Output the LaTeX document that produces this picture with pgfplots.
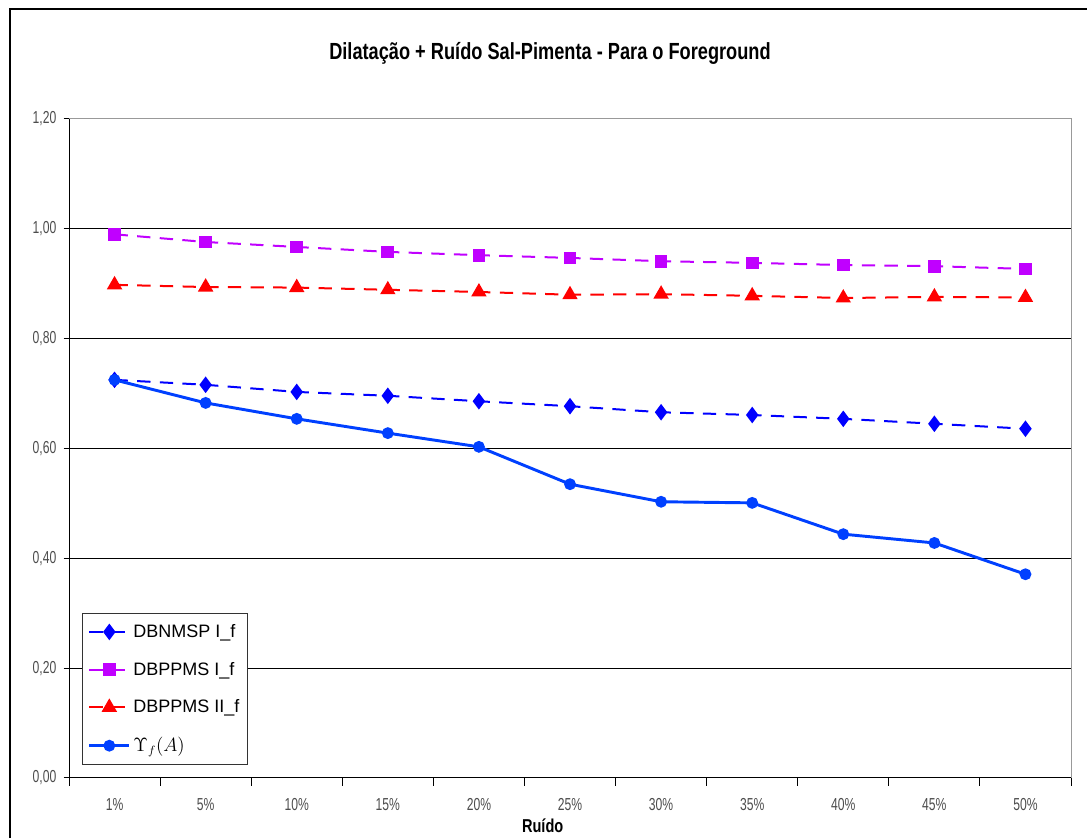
\documentclass[border=0pt]{standalone}
\usepackage{fontspec}
\usepackage{pgfplots}
\pgfplotsset{compat=1.18}
\setmainfont{Liberation Sans}
\newfontfamily\cond[FakeStretch=0.7]{Liberation Sans}
\newfontfamily\condb[FakeStretch=0.78]{Liberation Sans Bold}
\definecolor{dblue}{RGB}{0,0,255}
\definecolor{sblue}{RGB}{0,64,255}
\definecolor{mpurple}{RGB}{192,0,255}
\definecolor{mred}{RGB}{255,0,0}
\begin{document}
\begin{tikzpicture}
\useasboundingbox (0,0) rectangle (815.25pt,628.5pt);
\draw[line width=1.5pt] (7.5pt,0pt) -- (7.5pt,621.75pt) -- (815.25pt,621.75pt);
\node[font=\condb\fontsize{17.5}{20}\selectfont] at (412.5pt,588.75pt) {Dilatação + Ruído Sal-Pimenta - Para o Foreground};
\node[font=\condb\fontsize{14}{16}\selectfont] at (407pt,9pt) {Ruído};
\begin{axis}[
  at={(51.75pt,45pt)}, anchor=south west,
  scale only axis, width=751.5pt, height=494.25pt,
  xmin=-0.5, xmax=10.5, ymin=0, ymax=1.2,
  axis line style={draw=gray!80, line width=0.75pt},
  tick pos=left,
  xtick={0,1,2,3,4,5,6,7,8,9,10},
  xticklabels={1\%,5\%,10\%,15\%,20\%,25\%,30\%,35\%,40\%,45\%,50\%},
  minor xtick={-0.5,0.5,1.5,2.5,3.5,4.5,5.5,6.5,7.5,8.5,9.5,10.5},
  major x tick style={draw=none},
  minor x tick style={black, line width=0.75pt},
  minor tick length=6pt,
  ytick={0,0.2,0.4,0.6,0.8,1.0,1.2},
  y tick style={black, line width=0.75pt},
  major tick length=4pt,
  tick align=outside,
  ymajorgrids, major grid style={black, line width=0.75pt},
  /pgf/number format/fixed, /pgf/number format/fixed zerofill,
  /pgf/number format/precision=2, /pgf/number format/use comma,
  /pgf/number format/assume math mode=true,
  ticklabel style={font=\cond\fontsize{13}{14}\selectfont, text=black!70},
  xticklabel style={yshift=-8pt},
  yticklabel style={xshift=-2pt},
  legend style={at={(0.013,0.25)}, anchor=north west, draw=black!80, line width=0.75pt,
    font=\fontsize{13.5}{15}\selectfont, row sep=13pt, inner xsep=4pt, inner ysep=6pt},
  legend cell align=left,
  legend image code/.code={\draw[mark repeat=2,mark phase=2] plot coordinates {(0pt,0pt) (15pt,0pt) (30pt,0pt)};},
]
\addplot[dblue, line width=1.5pt, dash pattern=on 10pt off 7pt, mark=diamond*, mark size=5pt, mark options={solid}]
 coordinates {(0,0.725) (1,0.716) (2,0.703) (3,0.696) (4,0.686) (5,0.677) (6,0.666) (7,0.661) (8,0.654) (9,0.645) (10,0.636)};
\addlegendentry{DBNMSP I\_f}
\addplot[mpurple, line width=1.5pt, dash pattern=on 10pt off 7pt, mark=square*, mark size=4pt, mark options={solid}]
 coordinates {(0,0.990) (1,0.976) (2,0.967) (3,0.958) (4,0.952) (5,0.947) (6,0.941) (7,0.938) (8,0.934) (9,0.932) (10,0.927)};
\addlegendentry{DBPPMS I\_f}
\addplot[mred, line width=1.5pt, dash pattern=on 10pt off 7pt, mark=triangle*, mark size=5.2pt, mark options={solid}]
 coordinates {(0,0.898) (1,0.894) (2,0.893) (3,0.889) (4,0.885) (5,0.880) (6,0.881) (7,0.878) (8,0.874) (9,0.876) (10,0.875)};
\addlegendentry{DBPPMS II\_f}
\addplot[sblue, line width=2.2pt, mark=*, mark size=3.3pt]
 coordinates {(0,0.725) (1,0.683) (2,0.654) (3,0.628) (4,0.603) (5,0.535) (6,0.503) (7,0.501) (8,0.444) (9,0.428) (10,0.371)};
\addlegendentry{$\Upsilon_f(A)$}
\draw[black, line width=0.75pt] (rel axis cs:0,0) -- (rel axis cs:0,1);
\draw[black, line width=0.75pt] (rel axis cs:0,0) -- (rel axis cs:1,0);
\draw[gray!80, line width=0.75pt] (rel axis cs:0,1) -- (rel axis cs:1,1);
\end{axis}
\end{tikzpicture}
\end{document}
